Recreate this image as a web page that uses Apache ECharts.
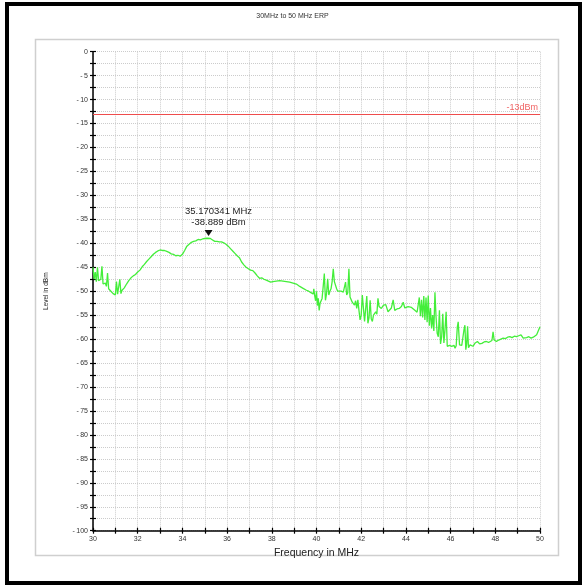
<!DOCTYPE html>
<html>
<head>
<meta charset="utf-8">
<script src="https://cdn.jsdelivr.net/npm/echarts@6/dist/echarts.min.js"></script>
<style>
html,body{margin:0;padding:0;background:#fff;}
#c{width:585px;height:585px;}
</style>
</head>
<body>
<div id="c"></div>
<script>
var titleText = '30MHz to 50 MHz ERP';
var xName = 'Frequency in MHz';
var yName = 'Level in dBm';
var limitValue = -13;
var limitLabel = '-13dBm';
var peakFreq = 35.170341;
var peakLevel = -38.889;

var freq = [
30.00,30.05,30.10,30.15,30.20,30.25,30.30,30.35,30.40,30.45,30.50,30.55,30.60,30.65,30.70,30.75,30.80,30.85,30.90,30.95,
31.00,31.05,31.10,31.15,31.20,31.25,31.30,31.40,31.50,31.60,31.70,31.80,31.90,32.00,32.10,32.20,32.30,32.40,32.50,32.60,
32.70,32.80,32.90,33.00,33.10,33.20,33.30,33.40,33.50,33.60,33.70,33.80,33.90,34.00,34.10,34.20,34.30,34.40,34.50,34.60,
34.70,34.80,34.90,35.00,35.10,35.17,35.25,35.35,35.45,35.55,35.65,35.75,35.85,35.95,36.05,36.15,36.25,36.35,36.45,36.55,
36.65,36.75,36.85,36.95,37.05,37.15,37.25,37.35,37.45,37.55,37.65,37.75,37.85,37.95,38.05,38.20,38.35,38.50,38.65,38.80,
38.95,39.10,39.25,39.40,39.55,39.65,39.75,39.85,39.88,39.92,39.96,40.00,40.04,40.08,40.12,40.16,40.20,40.25,40.30,40.35,
40.40,40.45,40.50,40.55,40.60,40.65,40.70,40.75,40.80,40.85,40.90,40.95,41.00,41.10,41.20,41.25,41.30,41.35,41.40,41.45,
41.50,41.55,41.60,41.70,41.75,41.80,41.85,41.90,41.95,42.00,42.05,42.10,42.15,42.20,42.25,42.30,42.35,42.40,42.45,42.50,
42.55,42.60,42.65,42.70,42.75,42.80,42.90,43.00,43.10,43.20,43.28,43.35,43.43,43.50,43.60,43.70,43.80,43.88,43.95,44.00,
44.10,44.18,44.25,44.30,44.40,44.50,44.55,44.60,44.65,44.70,44.75,44.80,44.85,44.90,44.95,45.00,45.05,45.10,45.15,45.20,
45.25,45.30,45.35,45.40,45.45,45.50,45.55,45.60,45.65,45.70,45.75,45.80,45.85,45.90,45.95,46.00,46.05,46.10,46.15,46.20,
46.25,46.30,46.34,46.40,46.45,46.50,46.55,46.60,46.64,46.68,46.72,46.76,46.80,46.87,46.95,47.00,47.10,47.20,47.25,47.30,
47.40,47.50,47.60,47.70,47.76,47.85,47.90,47.95,48.05,48.15,48.25,48.35,48.45,48.55,48.65,48.75,48.85,48.95,49.05,49.15,
49.25,49.33,49.40,49.50,49.60,49.70,49.78,49.85,49.92,50.00
];
var level = [
-45.0,-47.5,-46.0,-48.0,-45.0,-47.8,-48.2,-47.5,-44.8,-48.5,-48.8,-48.3,-49.0,-46.2,-49.5,-49.2,-50.0,-49.8,-50.5,-50.2,
-50.8,-48.0,-50.6,-50.3,-47.5,-50.5,-49.8,-49.3,-48.5,-47.8,-47.2,-46.8,-46.5,-46.0,-45.6,-44.9,-44.4,-43.8,-43.3,-42.8,
-42.3,-41.9,-41.6,-41.4,-41.5,-41.5,-41.7,-41.9,-42.2,-42.3,-42.6,-42.5,-42.7,-42.3,-41.5,-40.6,-40.2,-39.8,-39.6,-39.5,
-39.2,-39.3,-39.1,-39.0,-38.95,-38.889,-39.0,-39.3,-39.6,-39.6,-39.7,-39.7,-39.9,-40.2,-40.6,-41.1,-41.6,-42.1,-42.6,-43.0,
-43.9,-44.5,-45.0,-45.3,-45.6,-45.7,-46.2,-46.8,-47.3,-47.2,-47.5,-47.7,-47.9,-48.1,-48.0,-47.9,-47.8,-47.9,-48.0,-48.1,
-48.3,-48.5,-49.0,-49.4,-49.8,-50.0,-50.3,-50.6,-49.5,-51.0,-52.0,-50.0,-53.0,-51.5,-54.0,-52.5,-52.2,-51.5,-49.0,-46.3,
-51.9,-50.5,-47.4,-50.8,-50.0,-49.5,-48.0,-45.3,-48.0,-48.4,-49.5,-50.0,-50.1,-50.0,-50.2,-50.5,-48.1,-50.8,-50.3,-45.3,
-51.2,-51.5,-52.3,-52.9,-52.0,-53.6,-51.8,-54.0,-56.0,-55.0,-50.8,-51.2,-56.3,-56.0,-51.0,-56.7,-55.5,-51.9,-55.8,-56.3,
-55.0,-55.3,-54.3,-54.8,-51.5,-53.2,-53.6,-52.9,-52.8,-54.3,-54.7,-53.5,-51.8,-54.0,-53.7,-53.6,-53.2,-52.3,-53.5,-53.3,
-53.2,-53.0,-53.4,-53.8,-54.0,-54.4,-54.7,-51.3,-55.2,-51.8,-55.5,-51.0,-56.0,-51.3,-56.5,-50.9,-57.2,-53.5,-57.8,-55.0,
-58.3,-50.2,-55.5,-58.8,-59.5,-54.0,-61.0,-59.5,-54.7,-60.8,-58.0,-54.3,-61.5,-61.9,-61.3,-61.6,-61.5,-61.8,-61.3,-61.9,
-61.4,-57.5,-56.4,-61.2,-61.6,-61.3,-61.5,-58.0,-57.1,-62.2,-61.0,-57.3,-61.8,-61.2,-61.5,-61.5,-60.8,-60.5,-60.2,-61.0,
-60.9,-60.6,-60.5,-60.7,-60.9,-60.3,-58.5,-60.2,-60.5,-60.2,-60.0,-59.8,-59.9,-59.6,-59.5,-59.7,-59.4,-59.5,-59.3,-59.1,
-59.8,-60.2,-59.7,-59.5,-59.8,-59.6,-59.8,-59.1,-58.3,-57.4
];

var seriesData = freq.map(function (f, i) { return [f, level[i]]; });

var chart = echarts.init(document.getElementById('c'), null, {renderer: 'canvas'});

var FONT = 'Liberation Sans, Arial, sans-serif';
var yTickFmt = function (v) {
  if (Math.abs(v % 5) > 1e-6) return '';
  if (v === 0) return '0';
  return '-\u2009' + Math.abs(v);
};
var xTickFmt = function (v) {
  return (Math.round(v) % 2 === 0) ? String(v) : '';
};
var gridBox = {left: 93, right: 45, top: 51.7, bottom: 54.3, containLabel: false};

var option = {
  animation: false,
  backgroundColor: '#ffffff',
  title: {
    text: titleText,
    left: 'center',
    top: 8,
    textStyle: {fontSize: 7, fontWeight: 'normal', color: '#333', fontFamily: FONT}
  },
  graphic: [
    {type: 'rect', z: -10, shape: {x: 7, y: 4, width: 573, height: 579},
     style: {fill: 'none', stroke: '#000', lineWidth: 4}},
    {type: 'rect', z: -10, shape: {x: 35.5, y: 39.5, width: 523, height: 516},
     style: {fill: '#fff', stroke: '#cfcfcf', lineWidth: 1.5}}
  ],
  grid: [
    Object.assign({}, gridBox),
    Object.assign({}, gridBox)
  ],
  xAxis: [{
    gridIndex: 0,
    type: 'value', min: 30, max: 50, interval: 1,
    name: xName, nameLocation: 'middle', nameGap: 14,
    nameTextStyle: {fontSize: 10.5, color: '#222', fontFamily: FONT},
    axisLine: {show: true, onZero: false, lineStyle: {color: '#000', width: 1.5}},
    axisTick: {show: true, length: 3, lineStyle: {color: '#000', width: 1.2}},
    axisLabel: {formatter: xTickFmt, fontSize: 7, color: '#333', margin: 5, fontFamily: FONT},
    splitLine: {show: true, lineStyle: {color: '#cccccc', type: 'dotted', width: 1}}
  }, {
    gridIndex: 1,
    type: 'value', min: 30, max: 50, interval: 1, position: 'bottom',
    axisLine: {show: false, onZero: false},
    axisTick: {show: true, inside: true, length: 3, lineStyle: {color: '#000', width: 1.2}},
    axisLabel: {show: false},
    splitLine: {show: false}
  }],
  yAxis: [{
    gridIndex: 0,
    type: 'value', min: -100, max: 0, interval: 2.5,
    name: yName, nameLocation: 'middle', nameGap: 43, nameRotate: 90,
    nameTextStyle: {fontSize: 6.5, color: '#222', fontFamily: FONT},
    axisLine: {show: true, onZero: false, lineStyle: {color: '#000', width: 1.5}},
    axisTick: {show: true, length: 3, lineStyle: {color: '#000', width: 1.2}},
    axisLabel: {formatter: yTickFmt, fontSize: 7, color: '#333', margin: 5, fontFamily: FONT},
    splitLine: {show: true, lineStyle: {color: '#cccccc', type: 'dotted', width: 1}}
  }, {
    gridIndex: 1,
    type: 'value', min: -100, max: 0, interval: 2.5, position: 'left',
    axisLine: {show: false, onZero: false},
    axisTick: {show: true, inside: true, length: 3, lineStyle: {color: '#000', width: 1.2}},
    axisLabel: {show: false},
    splitLine: {show: false}
  }],
  series: [{
    type: 'line',
    xAxisIndex: 0, yAxisIndex: 0,
    data: seriesData,
    showSymbol: false,
    symbol: 'none',
    lineStyle: {color: '#44ee3a', width: 1.3},
    z: 3,
    markLine: {
      silent: true,
      symbol: 'none',
      lineStyle: {color: '#ef4d4d', width: 1.2, type: 'solid'},
      label: {show: true, position: 'insideEndTop', formatter: limitLabel, color: '#f06262', fontSize: 9, distance: 2,
              fontFamily: FONT},
      data: [{yAxis: limitValue}]
    },
    markPoint: {
      silent: true,
      symbol: 'triangle',
      symbolRotate: 180,
      symbolSize: [8, 6],
      symbolOffset: [0, -5],
      itemStyle: {color: '#111'},
      label: {
        show: true, position: 'top', distance: 2, offset: [10, 0],
        formatter: peakFreq.toFixed(6) + ' MHz\n' + peakLevel.toFixed(3) + ' dBm',
        fontSize: 9.5, lineHeight: 11, color: '#222', align: 'center',
        fontFamily: FONT
      },
      data: [{coord: [peakFreq, peakLevel]}]
    }
  }]
};
chart.setOption(option);
</script>
</body>
</html>
